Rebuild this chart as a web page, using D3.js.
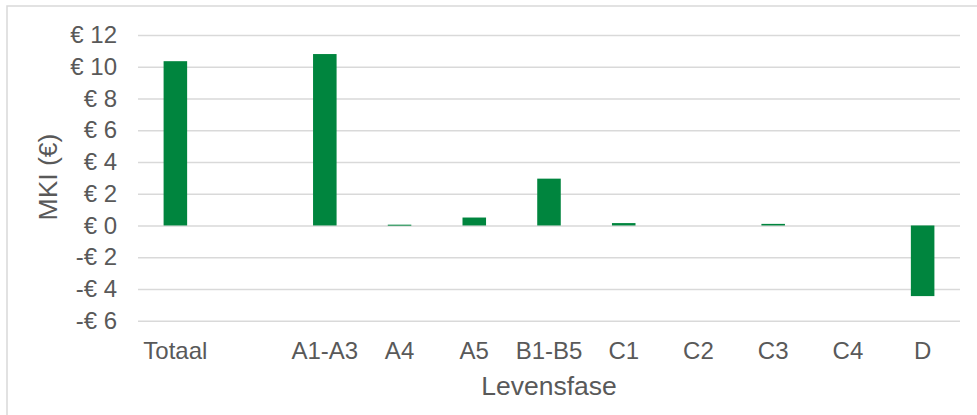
<!DOCTYPE html>
<html lang="nl">
<head>
  <meta charset="UTF-8">
  <title>MKI per levensfase</title>
  <style>
    html, body {
      margin: 0;
      overflow: hidden;
      width: 100%;
      height: 100%;
      background: #fff;
    }

    svg {
      position: absolute;
      top: 0;
      left: 0;
      font-family: "Liberation Sans", Arial, sans-serif;
    }
  </style>
</head>
<body>
  <svg width="977" height="415"></svg>
</body>
<script src="https://d3js.org/d3.v7.min.js"></script>
<script type="text/javascript">
  // fases, de lege plek na Totaal zit ook in de reeks
  const categories = ['Totaal', '', 'A1-A3', 'A4', 'A5', 'B1-B5', 'C1', 'C2', 'C3', 'C4', 'D']
  const values = [10.35, null, 10.8, 0.05, 0.5, 2.95, 0.15, 0, 0.1, 0, -4.45]
  const yTicks = [-6, -4, -2, 0, 2, 4, 6, 8, 10, 12]

  const svg = d3.select('svg')
  const textColor = '#595959'
  const gridColor = '#d9d9d9'

  const x = d3.scaleBand()
    .domain(d3.range(categories.length))
    .range([138, 960])
    .paddingInner(0.685)
    .paddingOuter(0.3425)

  const y = d3.scaleLinear()
    .domain([-6, 12])
    .range([320.7, 35])

  // rand om de grafiek
  svg.append('rect')
    .attr('x', 7)
    .attr('y', 6)
    .attr('width', 980)
    .attr('height', 420)
    .attr('fill', 'none')
    .attr('stroke', gridColor)
    .attr('stroke-width', 1.5)

  const euro = v => (v < 0 ? '-€ ' : '€ ') + Math.abs(v)

  const yAxis = svg.append('g')
    .attr('transform', 'translate(138,0)')
    .call(d3.axisLeft(y)
      .tickValues(yTicks)
      .tickSize(-822)
      .tickPadding(21)
      .tickFormat(euro))

  yAxis.select('.domain').remove()
  yAxis.selectAll('.tick line')
    .attr('stroke', gridColor)
    .attr('stroke-width', 1.5)
  yAxis.selectAll('.tick text')
    .attr('fill', textColor)
    .style('font-size', '24px')
    .style('font-family', '"Liberation Sans", Arial, sans-serif')

  svg.selectAll('rect.bar')
    .data(values.map((v, i) => ({ v, i })).filter(d => d.v))
    .enter()
    .append('rect')
    .attr('class', 'bar')
    .attr('x', d => x(d.i))
    .attr('width', x.bandwidth())
    .attr('y', d => y(Math.max(0, d.v)))
    .attr('height', d => Math.max(1, Math.abs(y(d.v) - y(0))))
    .attr('fill', '#00853e')

  const xAxis = svg.append('g')
    .attr('transform', 'translate(0,' + y(-6) + ')')
    .call(d3.axisBottom(x)
      .tickSize(0)
      .tickPadding(21)
      .tickFormat(i => categories[i]))

  xAxis.select('.domain').remove()
  xAxis.selectAll('.tick text')
    .attr('fill', textColor)
    .style('font-size', '24px')
    .style('font-family', '"Liberation Sans", Arial, sans-serif')

  svg.append('text')
    .attr('x', 549)
    .attr('y', 395)
    .attr('text-anchor', 'middle')
    .attr('fill', textColor)
    .style('font-size', '26.5px')
    .text('Levensfase')

  svg.append('text')
    .attr('transform', 'translate(57,177) rotate(-90)')
    .attr('text-anchor', 'middle')
    .attr('fill', textColor)
    .style('font-size', '26.5px')
    .text('MKI (€)')
</script>
</html>
